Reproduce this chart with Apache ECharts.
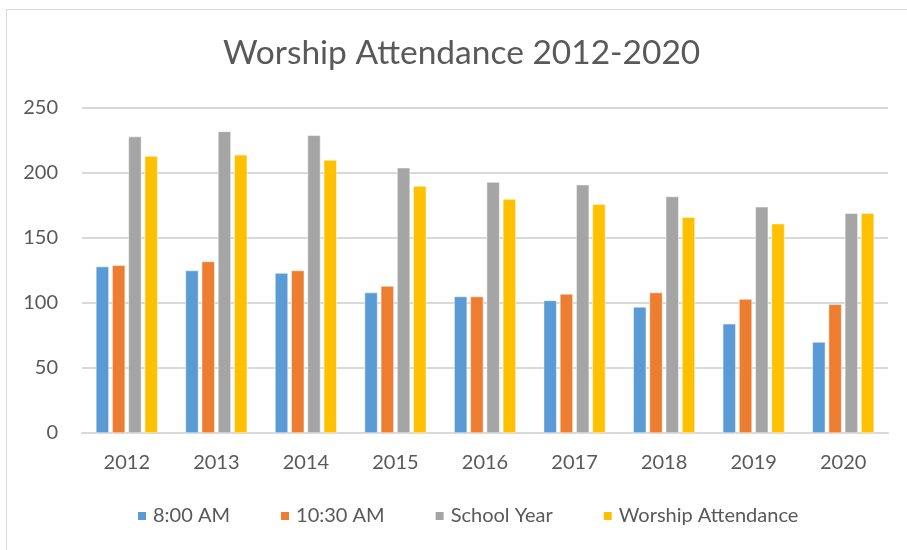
<!DOCTYPE html>
<html>
<head>
<meta charset="utf-8">
<script src="https://cdn.jsdelivr.net/npm/echarts@6/dist/echarts.min.js"></script>
<style>
  html, body { margin: 0; padding: 0; background: #fff; }
  #frame { position: absolute; left: 6px; top: 9px; width: 910px; height: 560px; border: 1px solid #d9d9d9; box-sizing: border-box; }
  #echarts { position: absolute; left: 0; top: 0; width: 907px; height: 550px; }
</style>
</head>
<body>
<div id="frame"></div>
<div id="echarts"></div>
<script>
// 数据
var years = ['2012', '2013', '2014', '2015', '2016', '2017', '2018', '2019', '2020'];
var am800 = [128, 125, 123, 108, 105, 102, 97, 84, 70];
var am1030 = [129, 132, 125, 113, 105, 107, 108, 103, 99];
var schoolYear = [228, 232, 229, 204, 193, 191, 182, 174, 169];
var worship = [213, 214, 210, 190, 180, 176, 166, 161, 169];
var yTicks = [0, 50, 100, 150, 200, 250];

var textColor = '#595959';
var font = 'Lato, "Open Sans", sans-serif';

function bar(name, data, color) {
    return {
        name: name,
        type: 'bar',
        data: data,
        barWidth: 13,
        barGap: '25%',
        itemStyle: { color: color, borderColor: '#fff', borderWidth: 0.5 }
    };
}

var myChart = echarts.init(document.getElementById('echarts'));
myChart.setOption({
    animation: false,
    textStyle: { fontFamily: font, color: textColor },
    title: {
        text: 'Worship Attendance 2012-2020',
        left: 218,
        top: 31,
        textStyle: { fontFamily: font, fontSize: 33.5, fontWeight: 'normal', color: textColor }
    },
    legend: {
        bottom: 19,
        left: 131,
        itemWidth: 10,
        itemHeight: 10,
        itemGap: 49,
        icon: 'rect',
        textStyle: { fontFamily: font, fontSize: 20, color: textColor, padding: [0, 0, 0, 1] },
        data: ['8:00 AM', '10:30 AM', 'School Year', 'Worship Attendance']
    },
    grid: { left: 82, right: 19, top: 108, bottom: 117 },
    xAxis: {
        type: 'category',
        data: years,
        axisTick: { show: false },
        axisLine: { lineStyle: { color: '#d9d9d9', width: 2 } },
        axisLabel: { fontFamily: font, fontSize: 20, color: textColor, margin: 20 }
    },
    yAxis: {
        type: 'value',
        min: yTicks[0],
        max: yTicks[yTicks.length - 1],
        interval: yTicks[1] - yTicks[0],
        axisLine: { show: false },
        axisTick: { show: false },
        splitLine: { lineStyle: { color: '#d9d9d9', width: 2 } },
        axisLabel: { fontFamily: font, fontSize: 20, color: textColor, margin: 24 }
    },
    series: [
        bar('8:00 AM', am800, '#5B9BD5'),
        bar('10:30 AM', am1030, '#ED7D31'),
        bar('School Year', schoolYear, '#A5A5A5'),
        bar('Worship Attendance', worship, '#FFC000')
    ]
});
</script>
</body>
</html>
